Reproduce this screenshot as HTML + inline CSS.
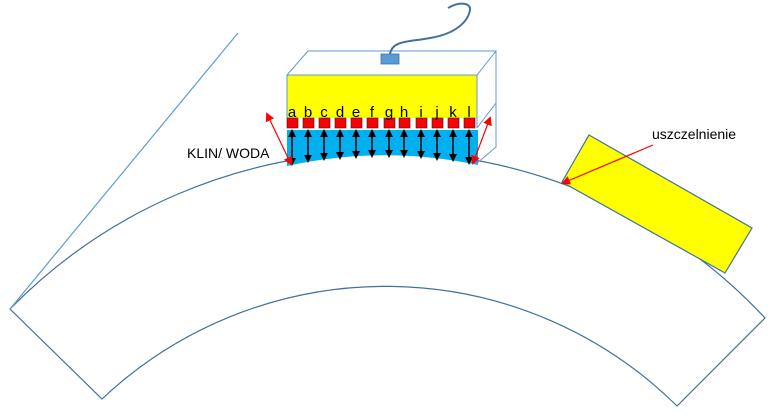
<!DOCTYPE html>
<html><head><meta charset="utf-8"><style>
html,body{margin:0;padding:0;background:#fff;}
svg{display:block;}
text{font-family:"Liberation Sans",sans-serif;}
</style></head><body>
<svg width="772" height="419" viewBox="0 0 772 419" xmlns="http://www.w3.org/2000/svg">
<defs>
<marker id="ah" markerWidth="8" markerHeight="8" refX="6" refY="4" orient="auto-start-reverse" markerUnits="userSpaceOnUse"><path d="M0,0 L8,4 L0,8 z" fill="#000"/></marker>
<marker id="rh" markerWidth="9" markerHeight="9" refX="7" refY="4.5" orient="auto-start-reverse" markerUnits="userSpaceOnUse"><path d="M0,0 L9,4.5 L0,9 z" fill="#f00"/></marker>
</defs>
<path d="M10,309 A522,522 0 0 1 765,318 L677,406 A414,414 0 0 0 102,399 Z" fill="none" stroke="#41719c" stroke-width="1.2"/>
<line x1="10" y1="309" x2="238" y2="33" stroke="#5b9bd5" stroke-width="1.2"/>
<path d="M287,130 L478,130 L478,165 Q383,145 287,166 Z" fill="#00b0f0"/>
<rect x="287" y="75" width="190" height="43" fill="#ffff00"/>
<path d="M287,75 L308,51 L496,51 L477,75 Z" fill="#fff" stroke="#5b9bd5" stroke-width="1"/>
<path d="M287,75 L287,118 M477,75 L477,128 M496,51 L496,147 L476,164 M496,103 L477,128 M287,75 L477,75" fill="none" stroke="#5b9bd5" stroke-width="1"/>
<rect x="381" y="54" width="18" height="10" fill="#5b9bd5" stroke="#41719c" stroke-width="0.8"/>
<path d="M390,54 C392,40 410,42 430,38 C455,34 468,22 470,10 C471,3 460,1 448,8" fill="none" stroke="#41719c" stroke-width="2"/>
<g fill="#ff0000" stroke="#222" stroke-width="0.6">
<rect x="287" y="118" width="11" height="10"/><rect x="303" y="118" width="11" height="10"/><rect x="319" y="118" width="11" height="10"/><rect x="335" y="118" width="11" height="10"/><rect x="351" y="118" width="11" height="10"/><rect x="367" y="118" width="11" height="10"/><rect x="384" y="118" width="11" height="10"/><rect x="399" y="118" width="11" height="10"/><rect x="416" y="118" width="11" height="10"/><rect x="432" y="118" width="11" height="10"/><rect x="448" y="118" width="11" height="10"/><rect x="464" y="118" width="11" height="10"/>
</g>
<g font-size="15" fill="#000" text-anchor="middle">
<text x="292" y="117">a</text><text x="308" y="117">b</text><text x="324" y="117">c</text><text x="340" y="117">d</text><text x="356" y="117">e</text><text x="372" y="117">f</text><text x="389" y="117">g</text><text x="404" y="117">h</text><text x="421" y="117">i</text><text x="437" y="117">j</text><text x="453" y="117">k</text><text x="469" y="117">l</text>
</g>
<g stroke="#000" stroke-width="1.5" marker-start="url(#ah)" marker-end="url(#ah)">
<line x1="292" y1="131" x2="292" y2="164"/><line x1="308" y1="131" x2="308" y2="161"/><line x1="324" y1="131" x2="324" y2="159"/><line x1="340" y1="131" x2="340" y2="158"/><line x1="356" y1="131" x2="356" y2="157"/><line x1="372" y1="131" x2="372" y2="156"/><line x1="389" y1="131" x2="389" y2="156"/><line x1="404" y1="131" x2="404" y2="156"/><line x1="421" y1="131" x2="421" y2="157"/><line x1="437" y1="131" x2="437" y2="159"/><line x1="453" y1="131" x2="453" y2="160"/><line x1="469" y1="131" x2="469" y2="163"/>
</g>
<g stroke="#f00" stroke-width="1.2" marker-start="url(#rh)" marker-end="url(#rh)">
<line x1="267" y1="114" x2="291" y2="164"/>
<line x1="490" y1="118" x2="473" y2="163"/>
</g>
<text x="187" y="158" font-size="14" fill="#000">KLIN/ WODA</text>
<path d="M589,135 L752,228 L725,273 L562,182 Z" fill="#ffff00" stroke="#41719c" stroke-width="1.2"/>
<line x1="653" y1="145" x2="563" y2="183" stroke="#f00" stroke-width="1.2" marker-end="url(#rh)"/>
<text x="652" y="139" font-size="14" fill="#000">uszczelnienie</text>
</svg>
</body></html>
